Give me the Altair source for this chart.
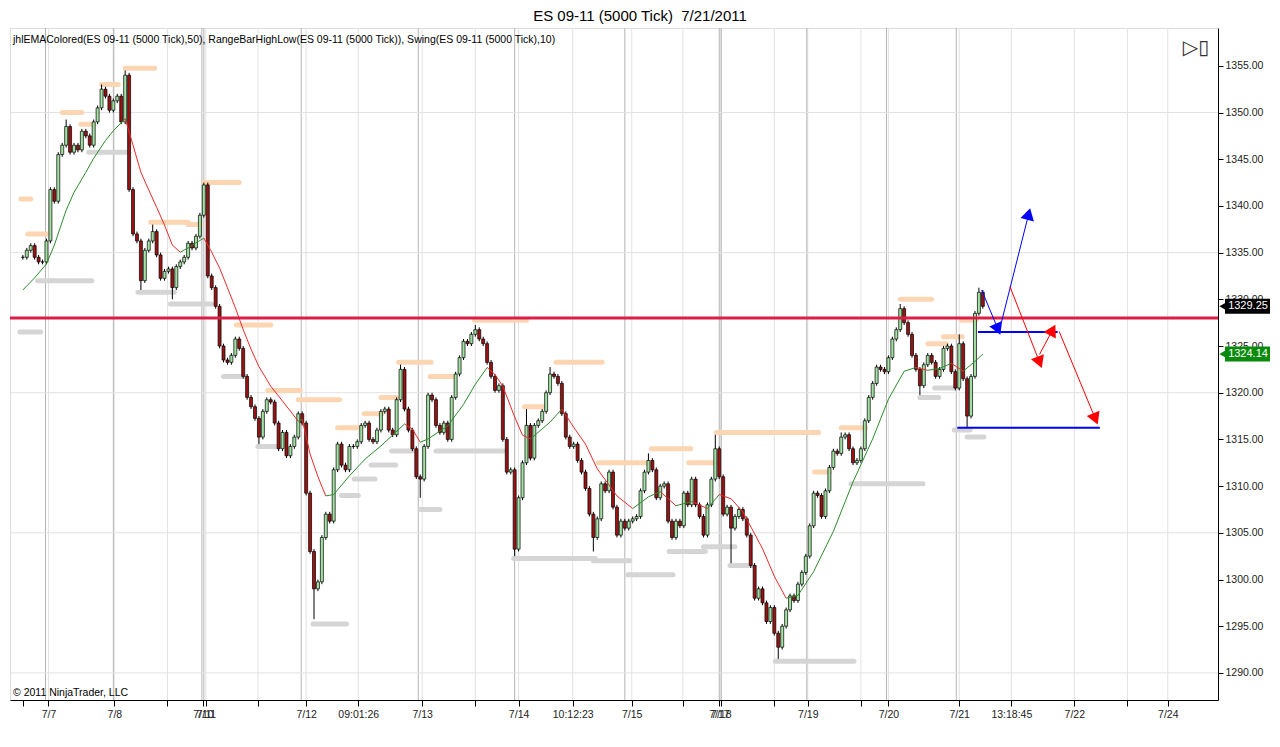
import math
import altair as alt
import pandas as pd

# ---------------- data ----------------
# close of each 5000-tick bar (bar index 0..244)
closes = [
    1334.5, 1335.25, 1335.75, 1334.5, 1334.0, 1334.0, 1336.25, 1341.75, 1340.5, 1345.5,
    1346.5, 1348.5, 1345.75, 1346.5, 1346.0, 1348.0, 1347.5, 1346.5, 1349.0, 1350.5,
    1352.5, 1351.75, 1350.25, 1351.25, 1351.75, 1349.0, 1354.0, 1341.75, 1337.0, 1336.25,
    1332.0, 1335.25, 1336.25, 1337.25, 1334.75, 1332.25, 1333.0, 1333.25, 1331.25, 1333.5,
    1334.0, 1334.5, 1336.0, 1335.5, 1336.75, 1339.0, 1342.25, 1332.5, 1331.25, 1329.25,
    1325.0, 1323.5, 1323.25, 1324.0, 1325.75, 1324.75, 1321.75, 1319.5, 1318.5, 1317.25,
    1315.25, 1318.0, 1319.25, 1319.0, 1316.75, 1314.0, 1315.75, 1313.25, 1314.25, 1315.25,
    1317.75, 1316.75, 1309.25, 1303.0, 1299.0, 1299.75, 1304.5, 1307.0, 1306.25, 1311.75,
    1314.5, 1312.25, 1311.75, 1314.25, 1314.25, 1314.75, 1316.5, 1316.75, 1315.0, 1314.75,
    1316.0, 1318.0, 1318.25, 1316.0, 1315.5, 1319.25, 1322.5, 1318.25, 1316.0, 1314.0,
    1311.0, 1310.75, 1314.25, 1319.75, 1319.25, 1316.5, 1315.75, 1316.75, 1315.0, 1319.5,
    1322.0, 1323.75, 1325.5, 1325.25, 1326.25, 1326.75, 1325.75, 1325.25, 1323.25, 1321.75,
    1320.25, 1320.75, 1315.0, 1311.5, 1311.75, 1303.25, 1308.75, 1312.5, 1316.5, 1313.0,
    1316.5, 1317.0, 1318.0, 1320.0, 1322.0, 1321.75, 1321.0, 1317.75, 1315.25, 1314.25,
    1314.5, 1312.75, 1311.5, 1309.75, 1307.0, 1304.5, 1306.5, 1310.25, 1309.5, 1311.5,
    1307.75, 1304.75, 1306.25, 1305.5, 1306.25, 1306.5, 1306.75, 1309.5, 1311.5, 1312.75,
    1311.75, 1308.75, 1310.0, 1310.25, 1306.25, 1304.5, 1306.25, 1305.75, 1309.25, 1308.0,
    1310.75, 1308.0, 1306.75, 1304.75, 1308.0, 1310.75, 1314.0, 1311.0, 1307.0, 1307.75,
    1305.5, 1306.75, 1307.5, 1306.5, 1304.75, 1301.5, 1298.0, 1299.0, 1297.5, 1295.5,
    1297.0, 1294.25, 1292.75, 1295.0, 1296.75, 1298.25, 1297.75, 1299.5, 1300.75, 1302.5,
    1305.75, 1309.25, 1309.0, 1306.75, 1309.5, 1312.0, 1313.75, 1313.5, 1315.25, 1315.5,
    1314.0, 1312.5, 1312.75, 1314.0, 1317.0, 1319.5, 1321.0, 1322.75, 1322.5, 1322.25,
    1323.75, 1325.75, 1326.75, 1329.0, 1327.5, 1326.25, 1324.0, 1322.5, 1320.75, 1323.0,
    1324.0, 1323.25, 1321.75, 1322.5, 1324.75, 1325.0, 1322.25, 1320.5, 1325.25, 1321.5,
    1317.5, 1321.75, 1328.5, 1330.75, 1329.25,
]
# long wicks that reach beyond the bodies
wick_high_idx = [11, 20, 26, 33, 46, 96, 115, 128, 134, 159, 176, 208, 223, 238, 243]
wick_high_val = [1349.25, 1353.0, 1354.5, 1338.0, 1342.5, 1323.0, 1327.25, 1318.25, 1322.75,
                 1313.5, 1315.5, 1315.75, 1329.5, 1326.25, 1331.25]
wick_low_idx = [30, 38, 60, 74, 101, 125, 145, 180, 192, 228, 240]
wick_low_val = [1331.0, 1330.0, 1314.5, 1295.75, 1308.75, 1302.5, 1303.0, 1301.75, 1291.5,
                1319.75, 1316.25]

# jhlEMAColored(50) read at some bars
ema_idx = [0, 3, 6, 8, 11, 13, 16, 18, 21, 23, 26, 28, 30, 32, 34, 36, 38, 40, 42, 44,
           46, 48, 50, 52, 54, 56, 58, 60, 63, 66, 70, 71, 73, 75, 77, 79, 83, 87, 91, 97,
           99, 101, 103, 108, 112, 115, 118, 120, 122, 125, 127, 129, 134, 137, 140, 143, 146, 151, 155, 159,
           162, 166, 170, 174, 177, 180, 183, 188, 191, 194, 197, 201, 206, 211, 216, 220, 224, 227, 230, 233,
           236, 239, 242, 244]
ema_val = [1331.0, 1332.3, 1333.8, 1335.8, 1339.55, 1341.45, 1343.6, 1345.1, 1347.0, 1348.05,
           1349.35, 1346.5, 1343.6, 1341.7, 1339.85, 1337.95, 1335.8, 1335.05, 1335.5, 1336.05,
           1336.55, 1335.05, 1333.35, 1331.25, 1329.1, 1326.75, 1324.65, 1322.8, 1320.7, 1319.1,
           1316.95, 1317.15, 1313.45, 1311.0, 1308.95, 1309.1, 1311.1, 1312.9, 1314.3, 1316.65,
           1316.1, 1314.7, 1315.05, 1316.45, 1318.75, 1320.9, 1322.7, 1321.95, 1320.7, 1317.4,
           1315.45, 1315.05, 1316.85, 1318.25, 1316.3, 1314.5, 1311.85, 1308.95, 1307.6, 1308.85,
           1309.4, 1307.9, 1308.35, 1307.6, 1309.1, 1308.65, 1307.25, 1303.3, 1300.35, 1298.0,
           1298.3, 1300.85, 1305.15, 1310.45, 1315.05, 1319.3, 1322.3, 1322.7, 1322.4, 1322.6,
           1323.15, 1322.3, 1323.35, 1324.14]

# Swing highs / lows (start bar, end bar, price)
sh_start = [-0.5, 1.25, 10, 14.75, 20, 26, 32.5, 42, 46, 54.25, 62.25, 70, 80, 86.75, 91, 95.5,
            103.5, 114.75, 127.5, 135.5, 146.25, 159.75, 169.25, 176.25, 201.25, 208, 223, 230, 234, 238.5]
sh_end = [2.0, 6.25, 15, 18, 24.25, 33.5, 42, 45.25, 55, 63, 70.5, 80.5, 86, 91.25, 95, 103.75,
          109.75, 128, 132.25, 147.25, 158.75, 169.75, 176.25, 202.25, 205, 214.25, 231, 234.75, 238.75, 242.25]
sh_price = [1340.75, 1337.0, 1350.0, 1348.75, 1353.0, 1354.75, 1338.25, 1338.0, 1342.5, 1327.25,
            1320.25, 1319.25, 1316.25, 1317.75, 1319.5, 1323.25, 1321.75, 1327.75, 1318.5, 1323.25,
            1312.5, 1314.0, 1312.5, 1315.75, 1311.5, 1316.25, 1330.0, 1325.25, 1326.0, 1327.75]
sl_start = [-0.75, 3.75, 16.75, 29.25, 37.5, 51, 59.75, 73.75, 81, 84.25, 88.5, 93.75, 101, 105,
            124.75, 145, 153.75, 164.25, 173, 179.75, 191.25, 210.5, 228, 231.75, 236.75, 240]
sl_end = [4.5, 17.5, 26.75, 38.5, 48, 56.25, 65, 82.25, 85.25, 89.5, 94.75, 99.25, 106, 122.25,
          145.5, 154.25, 165.25, 173.5, 181, 185.5, 211.25, 228.75, 232.75, 237.25, 240.75, 244.25]
sl_price = [1326.5, 1332.0, 1345.75, 1330.75, 1329.5, 1321.75, 1314.25, 1295.25, 1309.0, 1310.75,
            1312.25, 1313.75, 1307.5, 1313.75, 1302.25, 1302.0, 1300.5, 1303.0, 1303.5, 1301.5,
            1291.25, 1310.25, 1319.5, 1320.5, 1316.0, 1315.25]

# drawn objects
level_line = 1328.0
hl_start = [242.75, 237.5]
hl_end = [263.0, 273.75]
hl_price = [1326.5, 1316.25]
arr_x1 = [243.7, 248.7, 250.9, 258.4, 263.4]
arr_y1 = [1331.0, 1327.5, 1331.35, 1324.1, 1326.55]
arr_x2 = [248.25, 255.9, 258.8, 262.2, 273.0]
arr_y2 = [1326.4, 1339.55, 1322.85, 1327.1, 1316.8]
arr_col = ["#0000FF", "#0000FF", "#FF0000", "#FF0000", "#FF0000"]

last_price = 1329.25
ema_last = 1324.14

# axis texts
tick_vals = [0, 6.5, 23.25, 36.75, 45.75, 46.5, 59.75, 72, 85.25, 101.5, 115, 126, 139.75, 154.75,
             167.75, 176.9, 177.4, 191, 199.5, 213, 220, 238, 251.25, 267.25, 280.75, 291]
tick_text = ["", "7/7", "7/8", "", "7/10", "7/11", "", "7/12", "09:01:26", "7/13", "", "7/14", "10:12:23",
             "7/15", "", "7/17", "7/18", "", "7/19", "", "7/20", "7/21", "13:18:45", "7/22", "", "7/24"]
price_ticks = list(range(1290, 1360, 5))
hgrid_prices = [1290, 1305, 1320, 1335, 1350]
vgrid_light = [6.5, 23.25, 36.75, 46.5, 59.75, 72, 85.25, 101.5, 115, 126, 139.75, 154.75, 167.75,
               177.4, 191, 199.5, 213, 220, 238, 251.25, 267.25, 280.75, 291]
vgrid_dark = [5.75, 23.0, 45.5, 46.0, 70.75, 100.5, 125, 153, 177, 177.5, 199.25, 219.5, 237.25]

title_text = "ES 09-11 (5000 Tick) \u00a07/21/2011"
indicator_text = ("jhlEMAColored(ES 09-11 (5000 Tick),50), RangeBarHighLow(ES 09-11 (5000 Tick)), "
                  "Swing(ES 09-11 (5000 Tick),10)")
copyright_text = "\u00a9 2011 NinjaTrader, LLC"

# ---------------- chart ----------------
W, H = 1208, 672
XMIN, XMAX = -2.0, 302.5
YMIN, YMAX = 1287.1, 1359.05
xs = W / (XMAX - XMIN)
ys = H / (YMAX - YMIN)
FONT = "Liberation Sans"

xscale = alt.Scale(domain=[XMIN, XMAX], nice=False, zero=False)
yscale = alt.Scale(domain=[YMIN, YMAX], nice=False, zero=False)

expr = "''"
for v, t in reversed(list(zip(tick_vals, tick_text))):
    expr = f"abs(datum.value - {v}) < 0.01 ? '{t}' : ({expr})"

xaxis = alt.Axis(values=tick_vals, labelExpr=expr, title=None, grid=False, tickSize=6,
                 tickColor="black", domainColor="black", labelColor="#222222", labelFont=FONT,
                 labelFontSize=10.5, labelOverlap=False, labelFlush=False, labelPadding=3)
yaxis = alt.Axis(orient="right", values=price_ticks, format=".2f", title=None, grid=False,
                 tickSize=5, tickColor="black", domainColor="black", labelColor="#222222",
                 labelFont=FONT, labelFontSize=10.5, labelPadding=2, labelOverlap=False)


def X(f):
    return alt.X(f, scale=xscale, axis=xaxis)


def Y(f):
    return alt.Y(f, scale=yscale, axis=yaxis)


n = len(closes)
opens = [closes[0]] + closes[:-1]
highs = [max(o, c) + 0.25 for o, c in zip(opens, closes)]
lows = [min(o, c) - 0.25 for o, c in zip(opens, closes)]
for i, v in zip(wick_high_idx, wick_high_val):
    highs[i] = max(highs[i], v)
for i, v in zip(wick_low_idx, wick_low_val):
    lows[i] = min(lows[i], v)
candles = pd.DataFrame({
    "bar": list(range(n)), "open": opens, "close": closes, "high": highs, "low": lows,
    "dir": ["up" if c >= o else "down" for o, c in zip(opens, closes)],
})

vgrid = pd.DataFrame({"gx": vgrid_light + vgrid_dark,
                      "gc": ["#E2E2E2"] * len(vgrid_light) + ["#B4B4B4"] * len(vgrid_dark)})
hgrid = pd.DataFrame({"gy": hgrid_prices})

ema_seg = pd.DataFrame({
    "x": ema_idx[:-1], "y": ema_val[:-1], "x2": ema_idx[1:], "y2": ema_val[1:],
})
ema_seg["c"] = ["#2C8C2C" if b >= a else "#F02828" for a, b in zip(ema_seg["y"], ema_seg["y2"])]

sh = pd.DataFrame({"x": sh_start, "x2": sh_end, "y": sh_price})
sl = pd.DataFrame({"x": sl_start, "x2": sl_end, "y": sl_price})
hl = pd.DataFrame({"x": hl_start, "x2": hl_end, "y": hl_price})
arrows = pd.DataFrame({"x": arr_x1, "y": arr_y1, "x2": arr_x2, "y2": arr_y2, "c": arr_col})

heads = []
for x1, y1, x2, y2, c in zip(arr_x1, arr_y1, arr_x2, arr_y2, arr_col):
    dxp = (x2 - x1) * xs
    dyp = -(y2 - y1) * ys
    L = math.hypot(dxp, dyp)
    ux, uy = dxp / L, dyp / L
    ang = math.degrees(math.atan2(ux, -uy)) % 360
    heads.append({"x": x2 - ux * 6 / xs, "y": y2 + uy * 6 / ys, "ang": ang, "c": c})
heads = pd.DataFrame(heads)

boxes = pd.DataFrame({
    "p": [last_price, ema_last], "top": [last_price + 0.8, ema_last + 0.8],
    "bot": [last_price - 0.8, ema_last - 0.8], "t": [f"{last_price:.2f}", f"{ema_last:.2f}"],
    "c": ["#000000", "#0A8A0A"],
})

layers = [
    alt.Chart(vgrid).mark_rule(strokeWidth=1).encode(
        x=X("gx:Q"), color=alt.Color("gc:N", scale=None)),
    alt.Chart(hgrid).mark_rule(strokeWidth=1, color="#E2E2E2").encode(y=Y("gy:Q")),
    alt.Chart(sh).mark_rule(strokeWidth=5, color="#FCD6B2", strokeCap="round").encode(
        x=X("x:Q"), x2="x2:Q", y=Y("y:Q")),
    alt.Chart(sl).mark_rule(strokeWidth=5, color="#D5D5D5", strokeCap="round").encode(
        x=X("x:Q"), x2="x2:Q", y=Y("y:Q")),
    alt.Chart(candles).mark_rule(color="black", strokeWidth=1).encode(
        x=X("bar:Q"), y=Y("low:Q"), y2="high:Q"),
    alt.Chart(candles).mark_bar(size=3, stroke="black", strokeWidth=0.7).encode(
        x=X("bar:Q"), y=Y("open:Q"), y2="close:Q",
        color=alt.Color("dir:N", scale=alt.Scale(domain=["up", "down"], range=["#A2E2A2", "#9A1212"]),
                        legend=None)),
    alt.Chart(ema_seg).mark_rule(strokeWidth=1).encode(
        x=X("x:Q"), y=Y("y:Q"), x2="x2:Q", y2="y2:Q", color=alt.Color("c:N", scale=None)),
    alt.Chart(pd.DataFrame({"y": [level_line]})).mark_rule(color="#DC1E46", strokeWidth=3).encode(
        y=Y("y:Q")),
    alt.Chart(hl).mark_rule(color="#0000FF", strokeWidth=2).encode(x=X("x:Q"), x2="x2:Q", y=Y("y:Q")),
    alt.Chart(arrows).mark_rule(strokeWidth=1).encode(
        x=X("x:Q"), y=Y("y:Q"), x2="x2:Q", y2="y2:Q", color=alt.Color("c:N", scale=None)),
    alt.Chart(heads).mark_point(shape="triangle", filled=True, size=190, opacity=1).encode(
        x=X("x:Q"), y=Y("y:Q"), angle=alt.Angle("ang:Q", scale=None),
        color=alt.Color("c:N", scale=None)),
    alt.Chart(boxes).mark_rect().encode(
        x=alt.value(W + 7), x2=alt.value(W + 52), y=Y("top:Q"), y2="bot:Q",
        color=alt.Color("c:N", scale=None)),
    alt.Chart(boxes).mark_point(shape="triangle-left", filled=True, size=70, opacity=1).encode(
        x=alt.value(W + 5), y=Y("p:Q"), color=alt.Color("c:N", scale=None)),
    alt.Chart(boxes).mark_text(color="white", font=FONT, fontSize=11, align="center", baseline="middle").encode(
        x=alt.value(W + 30), y=Y("p:Q"), text="t:N"),
    alt.Chart(pd.DataFrame({"t": [indicator_text]})).mark_text(
        align="left", baseline="middle", font=FONT, fontSize=10.5, color="black").encode(
        x=alt.value(3), y=alt.value(12), text="t:N"),
    alt.Chart(pd.DataFrame({"t": [copyright_text]})).mark_text(
        align="left", baseline="middle", font=FONT, fontSize=10.5, color="black").encode(
        x=alt.value(3), y=alt.value(H - 7), text="t:N"),
    alt.Chart(pd.DataFrame({"t": ["\u25b7\u25af"]})).mark_text(
        align="center", baseline="middle", font="DejaVu Sans", fontSize=20, color="#333333").encode(
        x=alt.value(W - 22), y=alt.value(20), text="t:N"),
]

chart = alt.layer(*layers).properties(
    width=W, height=H, padding=0,
    title=alt.TitleParams(title_text, fontSize=15, font=FONT, fontWeight="normal", color="black",
                          anchor="middle", offset=4, dx=26),
).configure_view(stroke="black", strokeWidth=1).configure(font=FONT)

chart.save("out.html", embed_options={"renderer": "svg", "actions": False})
